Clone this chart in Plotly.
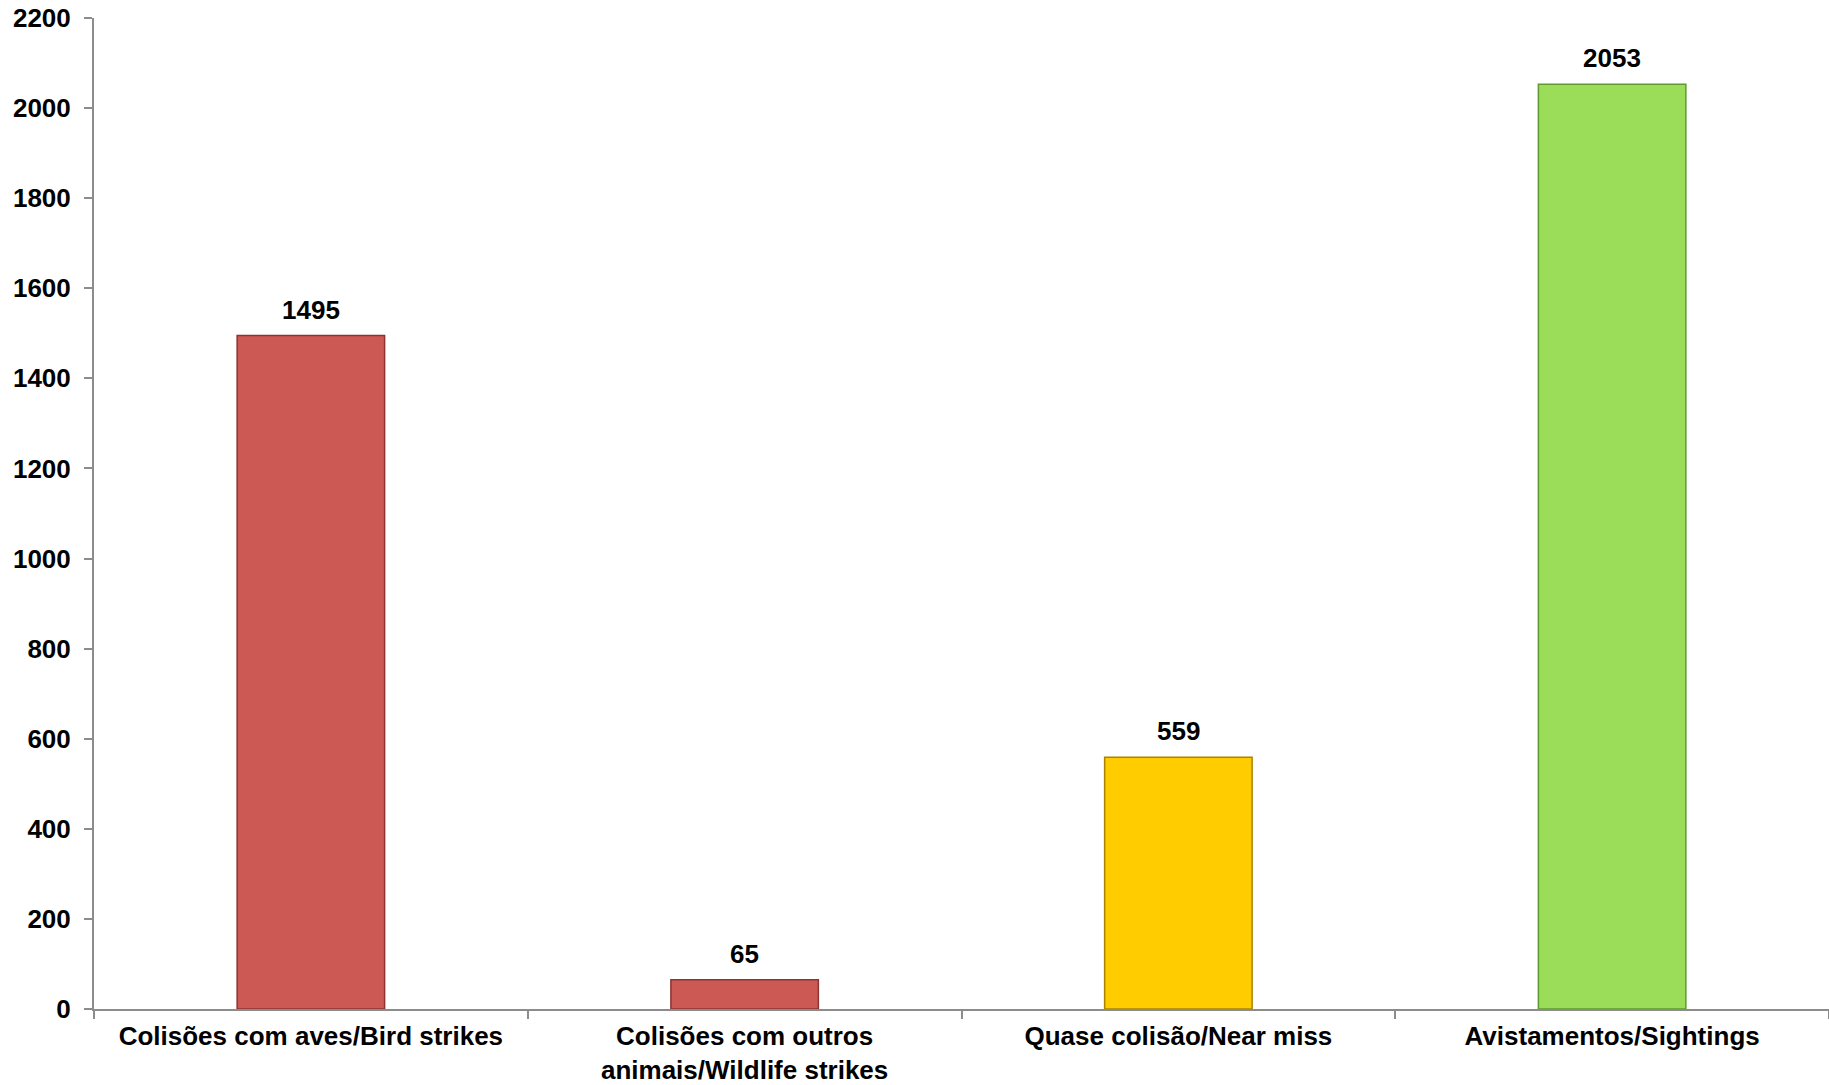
import plotly.graph_objects as go

categories = ["Colisões com aves/Bird strikes",
              "Colisões com outros<br>animais/Wildlife strikes",
              "Quase colisão/Near miss",
              "Avistamentos/Sightings"]
values = [1495, 65, 559, 2053]
colors = ["#CD5955", "#CD5955", "#FFCC00", "#9BDC58"]
edge_colors = ["#8E3330", "#8E3330", "#A88400", "#5F9A2E"]
y_ticks = [0, 200, 400, 600, 800, 1000, 1200, 1400, 1600, 1800, 2000, 2200]

font_family = "Liberation Sans, Arial, sans-serif"

fig = go.Figure(go.Bar(
    x=categories,
    y=values,
    marker=dict(color=colors, line=dict(color=edge_colors, width=1.5)),
    cliponaxis=False,
))

for c, v in zip(categories, values):
    fig.add_annotation(
        x=c, y=v, text=f"<b>{v}</b>", showarrow=False,
        yanchor="bottom", yshift=9,
        font=dict(family=font_family, size=26, color="black"),
    )

fig.update_layout(
    width=1829, height=1085,
    margin=dict(l=94, r=0, t=18, b=76, autoexpand=False),
    paper_bgcolor="white", plot_bgcolor="white",
    bargap=0.66,
    showlegend=False,
    font=dict(family=font_family, size=26, color="black"),
)
fig.update_xaxes(
    showline=True, linecolor="#8C8C8C", linewidth=2,
    ticks="outside", tickson="boundaries", ticklen=8, tickcolor="#8C8C8C", tickwidth=1.5,
    tickfont=dict(family=font_family, size=26, color="black", weight="bold"),
    showgrid=False, automargin=False,
    ticklabelstandoff=3,
)
fig.update_yaxes(
    range=[0, 2200], tickvals=y_ticks,
    showline=True, linecolor="#8C8C8C", linewidth=2,
    ticks="outside", ticklen=8, tickcolor="#8C8C8C", tickwidth=1.5,
    tickfont=dict(family=font_family, size=26, color="black", weight="bold"),
    showgrid=False, zeroline=False, automargin=False,
    ticklabelstandoff=8, ticklabeloverflow="allow",
)

fig.write_html("out.html", config={"displayModeBar": False},
               post_script="document.body.style.margin='0';")
